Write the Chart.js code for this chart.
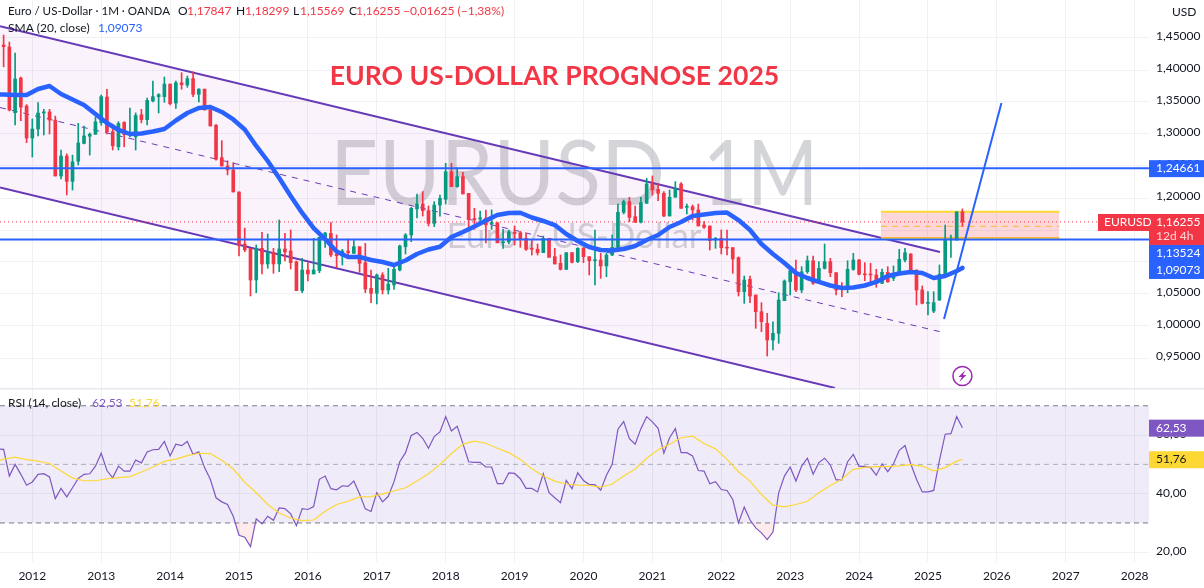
<!DOCTYPE html>
<html>
<head>
<meta charset="utf-8">
<title>EUR/USD</title>
<script src="https://cdn.jsdelivr.net/npm/chart.js@4/dist/chart.umd.min.js"></script>
<style>
    html, body { margin: 0; padding: 0; background: #fff; overflow: hidden; }
    canvas { display: block; }
</style>
</head>
<body>
<canvas id="chart" width="1204" height="588"></canvas>
<script>
// monthly candles, first one is Jul 2011 (month index is counted from Jan 2012)
const firstMonth = -6

const opens = [
    1.4395, 1.4390, 1.4360, 1.3333, 1.3875, 1.3437,
    1.2937, 1.3078, 1.3328, 1.3345, 1.3217, 1.2344, 1.2656, 1.2260, 1.2575, 1.2854, 1.2965, 1.2996,
    1.3177, 1.3578, 1.3036, 1.2800, 1.3180, 1.2990, 1.2955, 1.3300, 1.3225, 1.3516, 1.3583, 1.3583,
    1.3780, 1.3484, 1.3800, 1.3766, 1.3865, 1.3620, 1.3700, 1.3375, 1.3135, 1.2630, 1.2500, 1.2438,
    1.2094, 1.1280, 1.1214, 1.0719, 1.1214, 1.0969, 1.1146, 1.0969, 1.1203, 1.1172, 1.1005, 1.0552,
    1.0875, 1.0813, 1.0864, 1.1386, 1.1448, 1.1125, 1.1094, 1.1172, 1.1135, 1.1239, 1.0989, 1.0589,
    1.0511, 1.0797, 1.0563, 1.0641, 1.0875, 1.1239, 1.1422, 1.1830, 1.1906, 1.1802, 1.1604, 1.1890,
    1.1980, 1.2411, 1.2177, 1.2333, 1.2073, 1.1680, 1.1670, 1.1683, 1.1600, 1.1614, 1.1300, 1.1313,
    1.1466, 1.1458, 1.1370, 1.1205, 1.1200, 1.1146, 1.1370, 1.1083, 1.0980, 1.0885, 1.1146, 1.1005,
    1.1214, 1.1083, 1.1020, 1.1031, 1.0938, 1.1109, 1.1229, 1.1776, 1.1943, 1.1708, 1.1620, 1.1917,
    1.2219, 1.2135, 1.2073, 1.1719, 1.2011, 1.2219, 1.1855, 1.1864, 1.1813, 1.1578, 1.1563, 1.1344,
    1.1370, 1.1224, 1.1224, 1.1068, 1.0536, 1.0730, 1.0484, 1.0224, 1.0042, 0.9781, 0.9885, 1.0395,
    1.0692, 1.0848, 1.0563, 1.0848, 1.1020, 1.0667, 1.0901, 1.1005, 1.0833, 1.0575, 1.0578, 1.0886,
    1.1031, 1.0808, 1.0808, 1.0797, 1.0667, 1.0839, 1.0745, 1.0813, 1.1031, 1.1125, 1.0875, 1.0563,
    1.0354, 1.0234, 1.0406, 1.0797, 1.1345, 1.1344, 1.17847
]
const closes = [
    1.4390, 1.4364, 1.3375, 1.3860, 1.3420, 1.2937,
    1.3078, 1.3328, 1.3345, 1.3217, 1.2344, 1.2656, 1.2260, 1.2565, 1.2860, 1.2970, 1.2996, 1.3190,
    1.3583, 1.3036, 1.2815, 1.3165, 1.2990, 1.3016, 1.3290, 1.3225, 1.3525, 1.3583, 1.3615, 1.3780,
    1.3474, 1.3800, 1.3770, 1.3865, 1.3620, 1.3700, 1.3375, 1.3125, 1.2604, 1.2500, 1.2438, 1.2094,
    1.1265, 1.1188, 1.0719, 1.1214, 1.0969, 1.1146, 1.0969, 1.1203, 1.1156, 1.0990, 1.0552, 1.0875,
    1.0813, 1.0875, 1.1386, 1.1453, 1.1109, 1.1099, 1.1172, 1.1146, 1.1239, 1.0980, 1.0578, 1.0511,
    1.0797, 1.0563, 1.0656, 1.0886, 1.1250, 1.1422, 1.1839, 1.1906, 1.1802, 1.1604, 1.1890, 1.1995,
    1.2411, 1.2177, 1.2333, 1.2063, 1.1667, 1.1660, 1.1690, 1.1580, 1.1604, 1.1300, 1.1313, 1.1470,
    1.1445, 1.1354, 1.1198, 1.1200, 1.1146, 1.1370, 1.1073, 1.0969, 1.0885, 1.1146, 1.0995, 1.1214,
    1.1083, 1.1020, 1.1035, 1.0938, 1.1109, 1.1229, 1.1776, 1.1943, 1.1698, 1.1620, 1.1927, 1.2219,
    1.2125, 1.2073, 1.1719, 1.2011, 1.2151, 1.1839, 1.1870, 1.1813, 1.1563, 1.1542, 1.1333, 1.1370,
    1.1224, 1.1217, 1.1047, 1.0536, 1.0719, 1.0469, 1.0224, 1.0067, 0.9781, 0.9885, 1.0406, 1.0703,
    1.0864, 1.0563, 1.0848, 1.1020, 1.0667, 1.0901, 1.1005, 1.0833, 1.0563, 1.0568, 1.0886, 1.1031,
    1.0808, 1.0800, 1.0797, 1.0667, 1.0839, 1.0692, 1.0813, 1.1042, 1.1145, 1.0839, 1.0563, 1.0354,
    1.0360, 1.0365, 1.0808, 1.1355, 1.1350, 1.1781, 1.16255
]
const highs = [
    1.4450, 1.4547, 1.4437, 1.4266, 1.3890, 1.3460,
    1.3234, 1.3490, 1.3385, 1.3385, 1.3280, 1.2750, 1.2690, 1.2670, 1.3167, 1.3125, 1.3016, 1.3266,
    1.3610, 1.3698, 1.3140, 1.3193, 1.3193, 1.3406, 1.3330, 1.3385, 1.3563, 1.3828, 1.3630, 1.3890,
    1.3780, 1.3828, 1.3958, 1.3906, 1.3973, 1.3710, 1.3703, 1.3450, 1.3150, 1.2896, 1.2583, 1.2552,
    1.2095, 1.1530, 1.1214, 1.1266, 1.1464, 1.1438, 1.1214, 1.1656, 1.1448, 1.1500, 1.1016, 1.1057,
    1.0990, 1.1370, 1.1390, 1.1464, 1.1615, 1.1422, 1.1198, 1.1359, 1.1333, 1.1239, 1.1292, 1.0875,
    1.0813, 1.0833, 1.0901, 1.0980, 1.1265, 1.1445, 1.1855, 1.2063, 1.2099, 1.1875, 1.1943, 1.2047,
    1.2542, 1.2542, 1.2469, 1.2401, 1.2073, 1.1839, 1.1797, 1.1813, 1.1815, 1.1614, 1.1510, 1.1500,
    1.1563, 1.1480, 1.1448, 1.1333, 1.1281, 1.1406, 1.1370, 1.1214, 1.1109, 1.1146, 1.1146, 1.1225,
    1.1225, 1.1083, 1.1500, 1.1135, 1.1135, 1.1422, 1.1906, 1.1969, 1.2011, 1.1875, 1.2011, 1.2307,
    1.2344, 1.2230, 1.2100, 1.2125, 1.2255, 1.2240, 1.1906, 1.1891, 1.1906, 1.1630, 1.1563, 1.1385,
    1.1500, 1.1500, 1.1224, 1.1080, 1.0781, 1.0781, 1.0484, 1.0365, 1.0198, 1.0067, 1.0520, 1.0720,
    1.0901, 1.1031, 1.0927, 1.1094, 1.1094, 1.1005, 1.1281, 1.1057, 1.0833, 1.0677, 1.1020, 1.1135,
    1.1040, 1.0990, 1.0980, 1.0886, 1.0890, 1.0927, 1.0938, 1.1198, 1.1214, 1.1130, 1.0875, 1.0625,
    1.0536, 1.0536, 1.0953, 1.1578, 1.1422, 1.1790, 1.18299
]
const lows = [
    1.4000, 1.4050, 1.3360, 1.3140, 1.3207, 1.2865,
    1.2640, 1.2970, 1.2985, 1.3000, 1.2344, 1.2300, 1.2047, 1.2125, 1.2516, 1.2844, 1.2670, 1.2996,
    1.3136, 1.3000, 1.2750, 1.2750, 1.2800, 1.2955, 1.2750, 1.3173, 1.3140, 1.3500, 1.3328, 1.3495,
    1.3453, 1.3400, 1.3700, 1.3729, 1.3583, 1.3500, 1.3375, 1.3125, 1.2590, 1.2500, 1.2360, 1.2094,
    1.1094, 1.1160, 1.0469, 1.0520, 1.0813, 1.0901, 1.0823, 1.0849, 1.1016, 1.0891, 1.0552, 1.0520,
    1.0703, 1.0813, 1.0833, 1.1229, 1.1083, 1.0911, 1.0953, 1.1057, 1.1135, 1.0839, 1.0520, 1.0365,
    1.0344, 1.0500, 1.0500, 1.0573, 1.0860, 1.1125, 1.1317, 1.1688, 1.1718, 1.1563, 1.1552, 1.1718,
    1.1906, 1.2177, 1.2167, 1.2063, 1.1500, 1.1510, 1.1594, 1.1300, 1.1510, 1.1300, 1.1214, 1.1281,
    1.1266, 1.1229, 1.1180, 1.1109, 1.1109, 1.1146, 1.1073, 1.0969, 1.0875, 1.0880, 1.0985, 1.0990,
    1.0990, 1.0797, 1.0640, 1.0745, 1.0770, 1.1100, 1.1210, 1.1750, 1.1630, 1.1620, 1.1610, 1.1917,
    1.2047, 1.1958, 1.1710, 1.1719, 1.2020, 1.1839, 1.1750, 1.1656, 1.1563, 1.1526, 1.1188, 1.1214,
    1.1125, 1.1109, 1.0823, 1.0469, 1.0354, 1.0365, 0.9964, 0.9911, 0.9531, 0.9625, 0.9730, 1.0395,
    1.0484, 1.0536, 1.0520, 1.0823, 1.0650, 1.0660, 1.0890, 1.0770, 1.0484, 1.0458, 1.0520, 1.0870,
    1.0800, 1.0708, 1.0692, 1.0604, 1.0660, 1.0680, 1.0708, 1.0805, 1.1000, 1.0839, 1.0328, 1.0345,
    1.0172, 1.0208, 1.0400, 1.0790, 1.1073, 1.1340, 1.15569
]

// SMA(20) read every second month
const smaMonths = [
    -6, -5, -3, -1, 1, 3, 5, 7, 9, 11, 13, 15, 17, 19, 21, 23, 25, 27, 29, 31, 33, 35, 37, 39, 41, 43, 45, 47, 49,
    51, 53, 55, 57, 59, 61, 63, 65, 67, 69, 71, 73, 75, 77, 79, 81, 83, 85, 87, 89, 91, 93, 95, 97, 99, 101,
    103, 105, 107, 109, 111, 113, 115, 117, 119, 121, 123, 125, 127, 129, 131, 133, 135, 137, 139, 141, 143,
    145, 147, 149, 151, 153, 155, 157, 159, 161, 162
]
const smaValues = [
    1.3620, 1.3617, 1.3609, 1.3609, 1.3703, 1.3750, 1.3625, 1.3539, 1.3453, 1.3313, 1.3172, 1.3063, 1.3000, 1.3008, 1.3039,
    1.3078, 1.3211, 1.3328, 1.3406, 1.3422, 1.3344, 1.3227, 1.3070, 1.2813, 1.2578, 1.2313, 1.2031, 1.1766, 1.1531,
    1.1359, 1.1164, 1.1078, 1.1078, 1.1031, 1.1000, 1.0953, 1.1023, 1.1125, 1.1195, 1.1239, 1.1391, 1.1469, 1.1555,
    1.1648, 1.1734, 1.1766, 1.1770, 1.1695, 1.1641, 1.1578, 1.1438, 1.1328, 1.1234, 1.1188, 1.1180, 1.1203, 1.1250,
    1.1344, 1.1422, 1.1547, 1.1625, 1.1719, 1.1742, 1.1766, 1.1773, 1.1656, 1.1500, 1.1281, 1.1125, 1.0984, 1.0828,
    1.0750, 1.0688, 1.0633, 1.0594, 1.0602, 1.0633, 1.0688, 1.0781, 1.0820, 1.0844, 1.0828, 1.0750, 1.0781, 1.0859, 1.09073
]

const rsiValues = [
    55.3, 55.1, 46.0, 50.0, 46.6, 42.9,
    44.0, 46.6, 46.8, 45.7, 38.3, 41.8, 38.9, 42.0, 45.2, 46.6, 46.8, 49.4,
    53.8, 47.9, 45.4, 49.4, 47.7, 47.7, 51.5, 50.5, 54.2, 55.0, 55.1, 57.8,
    52.9, 56.9, 56.4, 57.8, 53.4, 54.3, 48.9, 44.9, 38.6, 37.2, 36.3, 32.3,
    25.8, 25.1, 21.9, 31.4, 29.7, 32.3, 30.9, 35.1, 34.9, 33.1, 29.1, 34.9,
    34.6, 35.6, 44.9, 46.0, 41.7, 41.3, 42.7, 42.5, 44.3, 39.9, 34.8, 33.9,
    40.3, 37.2, 39.1, 44.1, 50.9, 54.0, 59.9, 60.9, 58.9, 55.5, 59.5, 61.1,
    66.3, 61.4, 63.0, 57.1, 50.9, 50.7, 50.7, 49.1, 49.1, 43.4, 43.4, 47.1,
    46.9, 45.1, 41.8, 41.8, 40.6, 46.8, 40.3, 38.6, 36.9, 44.5, 41.7, 47.1,
    44.5, 43.1, 43.1, 41.2, 46.3, 50.0, 62.0, 64.6, 58.8, 56.9, 62.2, 66.3,
    64.5, 62.3, 53.8, 59.1, 62.2, 54.0, 54.0, 52.9, 47.9, 47.7, 43.4, 44.1,
    41.4, 41.1, 38.0, 30.0, 35.4, 31.1, 28.3, 26.6, 24.3, 26.9, 40.3, 46.0,
    49.1, 44.3, 49.4, 52.1, 46.6, 50.6, 52.1, 49.8, 44.7, 44.7, 50.9, 53.4,
    49.3, 49.3, 48.9, 46.3, 50.2, 47.5, 50.2, 54.8, 56.4, 50.2, 44.9, 40.6,
    40.6, 41.1, 51.4, 60.3, 60.5, 66.3, 62.53
]

const rsiMaMonths = [
    -6, -5, -4, -3, -1, 1, 3, 5, 7, 9, 11, 13, 15, 17, 19, 21, 23, 25, 27, 29, 31, 33, 35, 37, 39, 41, 43, 45, 47, 49,
    51, 53, 55, 57, 59, 61, 63, 65, 67, 69, 71, 73, 75, 77, 79, 81, 83, 85, 87, 89, 91, 93, 95, 97, 99, 101,
    103, 105, 107, 109, 111, 113, 115, 117, 119, 121, 123, 125, 127, 129, 131, 133, 135, 137, 139, 141, 143,
    145, 147, 149, 151, 153, 155, 157, 159, 161, 162
]
const rsiMaValues = [
    51.1, 51.8, 52.1, 52.5, 51.6, 51.1, 50.3, 47.7, 45.3, 44.4, 44.4, 45.1, 45.5, 45.8, 47.4, 49.1, 51.0, 51.8, 53.0, 53.8,
    53.7, 51.4, 48.4, 43.9, 40.3, 36.3, 33.4, 31.7, 30.8, 31.0, 34.0, 36.3, 37.4, 38.9, 39.0, 39.9, 40.9, 42.0, 44.3,
    46.8, 50.0, 53.7, 56.9, 57.9, 57.2, 55.5, 54.0, 51.7, 48.5, 46.0, 44.3, 43.3, 42.9, 42.8, 42.2, 43.3, 46.0, 48.4,
    52.1, 55.0, 56.9, 59.1, 59.6, 57.1, 55.3, 51.7, 47.5, 44.3, 39.7, 36.1, 35.5, 36.3, 37.4, 40.3, 42.8, 44.9, 48.3,
    49.0, 49.2, 49.2, 49.5, 49.9, 49.4, 47.8, 48.9, 51.1, 51.76
]

const priceTicks = [0.95, 1.00, 1.05, 1.10, 1.15, 1.20, 1.25, 1.30, 1.35, 1.40, 1.45]
const rsiTicks = [20, 40, 60]
const yearLabels = [2012, 2013, 2014, 2015, 2016, 2017, 2018, 2019, 2020, 2021, 2022, 2023, 2024, 2025, 2026, 2027, 2028]

// price levels and drawings, x in months since Jan 2012
const lastPrice = 1.16255
const smaLast = 1.09073
const levelHigh = 1.24661
const levelLow = 1.13524
const channelMonths = [-5.63, 139.8, 158.1]
const channelTopPrices = [1.4683, 1.1552, 1.1156]
const channelFloorPrices = [1.2164, 0.9032, 0.9032]
const channelLowMonths = [-5.63, 139.8]
const channelLowPrices = [1.2164, 0.9032]
const channelMidMonths = [-5.63, 158.1]
const channelMidPrices = [1.3414, 0.9911]
const arrowMonths = [158.8, 168.8]
const arrowPrices = [1.0109, 1.3484]
const zoneMonths = [147.8, 178.9]
const zoneTop = 1.1785
const zoneMid = 1.1558
const zoneBottom = 1.1375
const rsiUpper = 70
const rsiMiddle = 50
const rsiLower = 30

const FONT = 'Lato, "Noto Sans", sans-serif'
const UP = '#089981'
const DOWN = '#f23645'
const BLUE = '#2962ff'
const PURPLE = '#673ab7'
const RSI_PURPLE = '#7e57c2'
const YELLOW = '#fdd835'
const TEXT = '#131722'
const GRID = '#f0f1f4'

const monthIndex = opens.map((_, i) => firstMonth + i)
const xMin = -5.63
const xMax = 194.5

const toPoints = (xs, ys) => xs.map((x, i) => ({ x, y: ys[i] }))
const flat = (value, xs = [xMin, xMax]) => xs.map(x => ({ x, y: value }))
const candleColor = monthIndex.map((_, i) => closes[i] >= opens[i] ? UP : DOWN)
const comma = (v, digits) => v.toFixed(digits).replace('.', ',')

function lineSet(data, color, width, extra = {}) {
    return {
        type: 'line',
        data,
        borderColor: color,
        borderWidth: width,
        pointRadius: 0,
        fill: false,
        tension: 0,
        xAxisID: 'x',
        yAxisID: 'y',
        ...extra,
    }
}

function text(ctx, str, x, y, color, font = `12px ${FONT}`, align = 'left', maxWidth) {
    ctx.font = font
    ctx.fillStyle = color
    ctx.textAlign = align
    ctx.textBaseline = 'middle'
    if (maxWidth) ctx.fillText(str, x, y, maxWidth)
    else ctx.fillText(str, x, y)
}

const watermark = {
    id: 'watermark',
    beforeDatasetsDraw(chart) {
        const ctx = chart.ctx
        const grey = 'rgba(120,123,134,0.32)'
        ctx.save()
        text(ctx, 'EURUSD', 330, 175, grey, `92px ${FONT}`, 'left', 335)
        text(ctx, '1M', 703, 175, grey, `92px ${FONT}`, 'left', 115)
        text(ctx, 'Euro / US-Dollar', 574, 237, grey, `35px ${FONT}`, 'center')
        ctx.restore()
    },
}

const overlay = {
    id: 'overlay',
    afterDraw(chart) {
        const ctx = chart.ctx
        const y = chart.scales.y
        const y2 = chart.scales.rsi
        const right = chart.chartArea.right
        ctx.save()

        // pane separator
        ctx.fillStyle = '#e6e8ee'
        ctx.fillRect(0, y.bottom, 1204, 1.5)

        // legends
        text(ctx, 'Euro / US-Dollar · 1M · OANDA', 8, 11, TEXT, `12px ${FONT}`, 'left', 162)
        text(ctx, 'O', 178, 11, TEXT)
        text(ctx, comma(opens[opens.length - 1], 5), 187, 11, DOWN)
        text(ctx, 'H', 236, 11, TEXT)
        text(ctx, comma(highs[highs.length - 1], 5), 245, 11, DOWN)
        text(ctx, 'L', 293, 11, TEXT)
        text(ctx, comma(lows[lows.length - 1], 5), 300, 11, DOWN)
        text(ctx, 'C', 349, 11, TEXT)
        text(ctx, comma(lastPrice, 5), 356, 11, DOWN)
        text(ctx, '−0,01625 (−1,38%)', 403, 11, DOWN)
        text(ctx, 'SMA (20, close)', 8, 28, TEXT)
        text(ctx, comma(smaLast, 5), 98, 28, BLUE)
        text(ctx, 'RSI (14, close)', 8, 403, TEXT)
        text(ctx, comma(rsiValues[rsiValues.length - 1], 2), 92, 403, RSI_PURPLE)
        text(ctx, comma(rsiMaValues[rsiMaValues.length - 1], 2), 129, 403, YELLOW)
        text(ctx, 'EURO US-DOLLAR PROGNOSE 2025', 554.5, 76, DOWN, `bold 26.6px ${FONT}`, 'center')
        text(ctx, 'USD', right + 23, 12, TEXT)

        // axis tags
        const tag = (top, h, color, x = right, w = 55) => {
            ctx.fillStyle = color
            ctx.fillRect(x, top, w, h)
        }
        const tx = right + 7
        const high = y.getPixelForValue(levelHigh)
        tag(high - 8, 17, BLUE)
        text(ctx, comma(levelHigh, 5), tx, high, '#fff')

        const last = y.getPixelForValue(lastPrice)
        tag(last - 8, 31, DOWN)
        tag(last - 8, 17, DOWN, right - 51, 51)
        text(ctx, 'EURUSD', right - 45, last, '#fff')
        text(ctx, comma(lastPrice, 5), tx, last, '#fff')
        text(ctx, '12d 4h', tx, last + 14, '#ffd5d8')

        tag(last + 23, 34, BLUE)
        text(ctx, comma(levelLow, 5), tx, last + 31, '#fff')
        text(ctx, comma(smaLast, 5), tx, last + 48, '#fff')

        const rsiNow = y2.getPixelForValue(rsiValues[rsiValues.length - 1])
        tag(rsiNow - 8, 17, RSI_PURPLE)
        text(ctx, comma(rsiValues[rsiValues.length - 1], 2), tx, rsiNow, '#fff')
        const rsiMaNow = y2.getPixelForValue(rsiMaValues[rsiMaValues.length - 1])
        tag(rsiMaNow - 8, 17, YELLOW)
        text(ctx, comma(rsiMaValues[rsiMaValues.length - 1], 2), tx, rsiMaNow, TEXT)

        // lightning badge under the last candle
        const bx = chart.scales.x.getPixelForValue(monthIndex[monthIndex.length - 1])
        const by = y.bottom - 12
        ctx.beginPath()
        ctx.arc(bx, by, 9.5, 0, Math.PI * 2)
        ctx.fillStyle = '#fff'
        ctx.fill()
        ctx.lineWidth = 1.5
        ctx.strokeStyle = '#9c27b0'
        ctx.stroke()
        ctx.beginPath()
        ctx.moveTo(bx + 3, by - 6)
        ctx.lineTo(bx - 4, by + 1)
        ctx.lineTo(bx - 0.5, by + 1)
        ctx.lineTo(bx - 3, by + 6)
        ctx.lineTo(bx + 4, by - 1)
        ctx.lineTo(bx + 0.5, by - 1)
        ctx.closePath()
        ctx.fillStyle = '#9c27b0'
        ctx.fill()

        ctx.restore()
    },
}

// the panes run to the canvas edge, so no room is kept for half a tick label
function fitY(s) {
    s.width = 55
    s.paddingTop = 0
    s.paddingBottom = 0
}
function fitX(s) {
    s.height = 26
    s.paddingLeft = 0
    s.paddingRight = 0
}

new Chart(document.getElementById('chart'), {
    type: 'bar',
    data: {
        datasets: [
            // wicks and bodies
            {
                data: monthIndex.map((m, i) => ({ x: m, y: [opens[i], closes[i]] })),
                backgroundColor: candleColor,
                barThickness: 3,
                minBarLength: 1,
                grouped: false,
                order: 5,
                yAxisID: 'y',
            },
            {
                data: monthIndex.map((m, i) => ({ x: m, y: [lows[i], highs[i]] })),
                backgroundColor: candleColor,
                barThickness: 1,
                grouped: false,
                order: 6,
                yAxisID: 'y',
            },
            // channel
            lineSet(toPoints(channelMonths, channelTopPrices), PURPLE, 2, {
                fill: '+1',
                backgroundColor: 'rgba(156,39,176,0.055)',
                order: 9,
            }),
            lineSet(toPoints(channelMonths, channelFloorPrices), 'transparent', 0, { order: 10 }),
            lineSet(toPoints(channelLowMonths, channelLowPrices), PURPLE, 2, { order: 9 }),
            lineSet(toPoints(channelMidMonths, channelMidPrices), PURPLE, 1, { borderDash: [6, 6], order: 9 }),
            // target zone
            lineSet(flat(zoneTop, zoneMonths), YELLOW, 2, {
                fill: '+1',
                backgroundColor: 'rgba(242,54,69,0.2)',
                order: 8,
            }),
            lineSet(flat(zoneBottom, zoneMonths), YELLOW, 2, { order: 8 }),
            lineSet(flat(zoneMid, zoneMonths), YELLOW, 1, { borderDash: [6, 5], order: 8 }),
            // levels
            lineSet(flat(lastPrice), DOWN, 1, { borderDash: [1, 3], order: 7 }),
            lineSet(flat(levelHigh), BLUE, 2, { order: 3 }),
            lineSet(flat(levelLow), BLUE, 2, { order: 3 }),
            lineSet(toPoints(smaMonths, smaValues), BLUE, 4.5, { order: 2, borderCapStyle: 'round', borderJoinStyle: 'round' }),
            lineSet(toPoints(arrowMonths, arrowPrices), BLUE, 2, { order: 1 }),
            // rsi pane
            lineSet(flat(rsiUpper), '#787b86', 1, {
                yAxisID: 'rsi',
                borderDash: [5, 4],
                fill: { value: rsiLower },
                backgroundColor: 'rgba(126,87,194,0.12)',
                order: 9,
            }),
            lineSet(flat(rsiLower), '#787b86', 1, { yAxisID: 'rsi', borderDash: [5, 4], order: 8 }),
            lineSet(flat(rsiMiddle), 'rgba(120,123,134,0.55)', 1, { yAxisID: 'rsi', borderDash: [5, 4], order: 8 }),
            lineSet(toPoints(monthIndex, rsiValues), RSI_PURPLE, 1.2, {
                yAxisID: 'rsi',
                fill: { target: { value: rsiLower }, above: 'transparent', below: 'rgba(242,54,69,0.1)' },
                order: 3,
            }),
            lineSet(toPoints(rsiMaMonths, rsiMaValues), YELLOW, 1.2, { yAxisID: 'rsi', order: 2 }),
        ],
    },
    options: {
        responsive: false,
        animation: false,
        devicePixelRatio: 1,
        layout: { padding: 0 },
        events: [],
        plugins: { legend: { display: false }, tooltip: { enabled: false } },
        scales: {
            x: {
                type: 'linear',
                offset: false,
                min: xMin,
                max: xMax,
                afterBuildTicks: s => { s.ticks = yearLabels.map((_, i) => ({ value: i * 12 })) },
                afterFit: fitX,
                ticks: {
                    color: TEXT,
                    font: { family: FONT, size: 12 },
                    padding: 7,
                    maxRotation: 0,
                    autoSkip: false,
                    callback: v => yearLabels[v / 12],
                },
                grid: { color: GRID, drawTicks: false, offset: false },
                border: { display: false },
            },
            y: {
                position: 'right',
                stack: 'panes',
                stackWeight: 388,
                weight: 1,
                min: 0.903125,
                max: 1.509375,
                afterBuildTicks: s => { s.ticks = priceTicks.map(value => ({ value })) },
                afterFit: fitY,
                ticks: {
                    color: TEXT,
                    font: { family: FONT, size: 12 },
                    padding: 7,
                    labelOffset: -2,
                    autoSkip: false,
                    callback: v => comma(v, 5),
                },
                grid: { color: GRID, drawTicks: false },
                border: { display: false },
            },
            rsi: {
                position: 'right',
                stack: 'panes',
                stackWeight: 174,
                weight: 2,
                min: 16.67,
                max: 76.07,
                afterBuildTicks: s => { s.ticks = rsiTicks.map(value => ({ value })) },
                afterFit: fitY,
                ticks: {
                    color: TEXT,
                    font: { family: FONT, size: 12 },
                    padding: 7,
                    labelOffset: -1,
                    autoSkip: false,
                    callback: v => comma(v, 2),
                },
                grid: { color: GRID, drawTicks: false },
                border: { display: false },
            },
        },
    },
    plugins: [watermark, overlay],
})
</script>
</body>
</html>
